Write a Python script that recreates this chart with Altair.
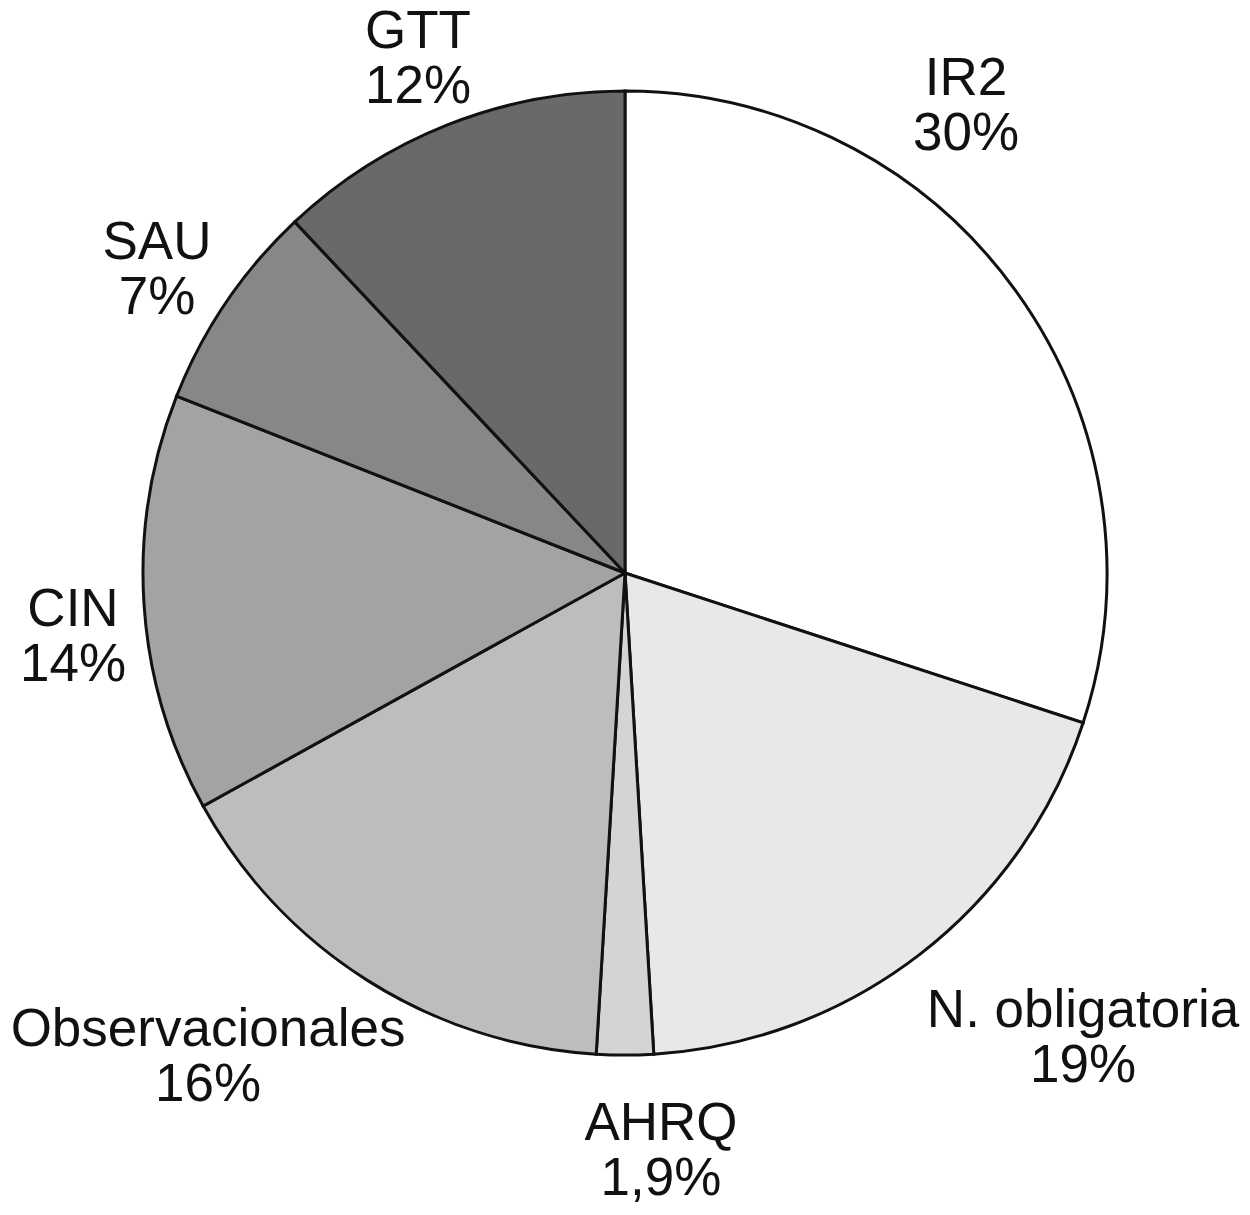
import altair as alt
import pandas as pd

# Data
categories = ["IR2", "N. obligatoria", "AHRQ", "Observacionales", "CIN", "SAU", "GTT"]
values = [30, 19, 1.9, 16, 14, 7, 12]
pct_labels = ["30%", "19%", "1,9%", "16%", "14%", "7%", "12%"]
colors = ["#ffffff", "#e8e8e8", "#d4d4d4", "#bdbdbd", "#a3a3a3", "#878787", "#696969"]

# Layout (chart pixel coords)
CX, CY, R = 617, 565, 482
LINE_H = 55
label_dx = [341, 458, 36, -417, -552, -468, -207]
label_dy = [-467, 465, 578, 484, 64, -303, -514]

df = pd.DataFrame({
    "cat": categories,
    "value": values,
    "order": list(range(len(categories))),
})

lab = pd.DataFrame({
    "text": [f"{c}\n{p}" for c, p in zip(categories, pct_labels)],
    "x": [CX + d for d in label_dx],
    "y": [CY + d - LINE_H / 2 for d in label_dy],
})

pie = alt.Chart(df).mark_arc(radius=R, stroke="#111111", strokeWidth=3).encode(
    theta=alt.Theta("value:Q", stack=True),
    order=alt.Order("order:Q"),
    color=alt.Color("cat:N", scale=alt.Scale(domain=categories, range=colors), legend=None),
    x=alt.value(CX),
    y=alt.value(CY),
)

text = alt.Chart(lab).mark_text(
    font="Liberation Sans", fontSize=53, lineHeight=LINE_H, lineBreak="\n",
    align="center", baseline="middle", color="#111111",
).encode(
    x=alt.X("x:Q", scale=None, axis=None),
    y=alt.Y("y:Q", scale=None, axis=None),
    text="text:N",
)

chart = alt.layer(pie, text).properties(
    width=1234, height=1199, padding=0,
    autosize=alt.AutoSizeParams(type="none"),
    background="white",
).configure_view(stroke=None)

chart.save("out.html", embed_options={"renderer": "svg", "actions": False})
